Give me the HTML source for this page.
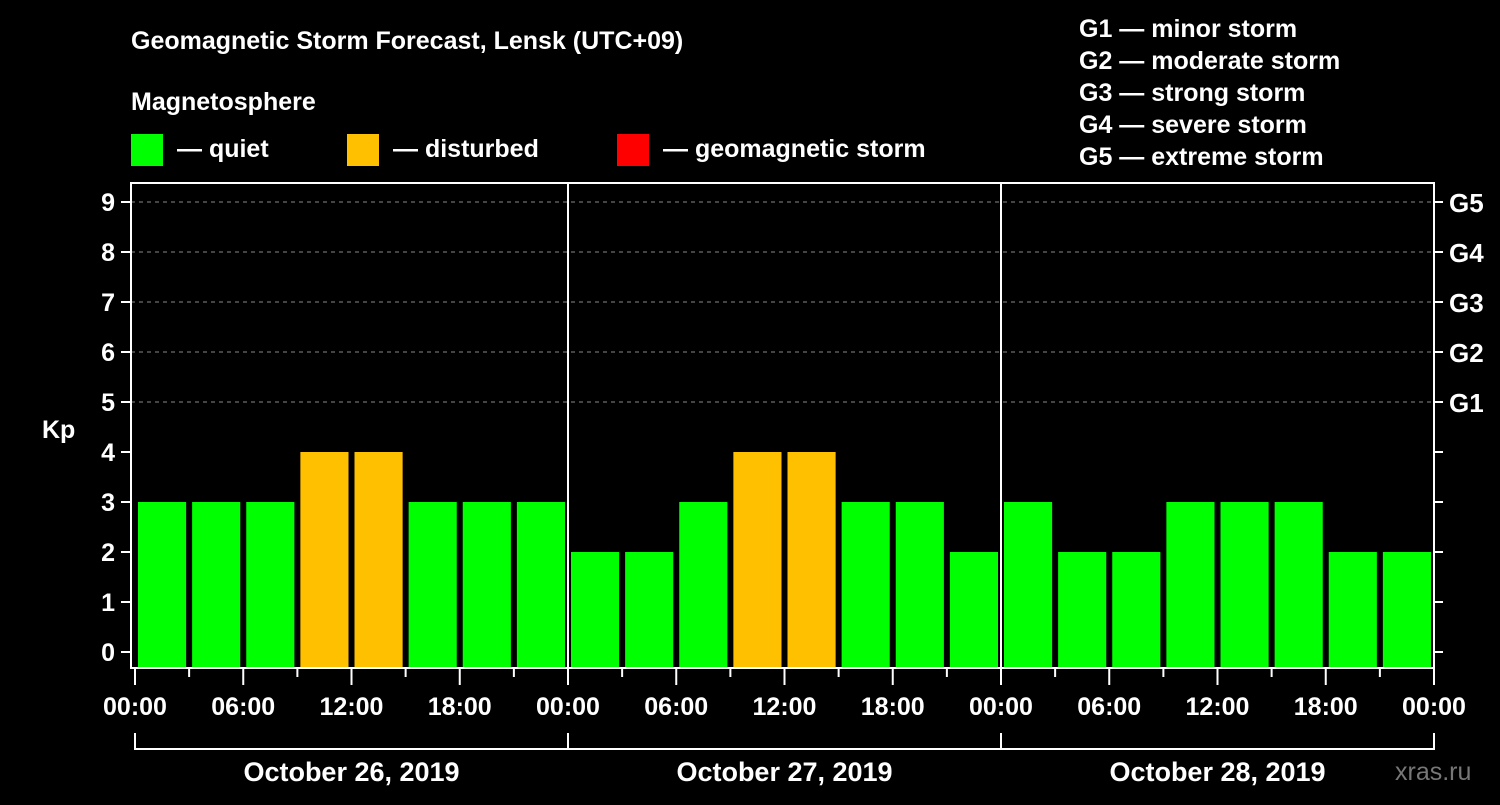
<!DOCTYPE html>
<html><head><meta charset="utf-8"><style>
body{margin:0;background:#000;width:1500px;height:800px;overflow:hidden}
svg text{font-family:"Liberation Sans",Arial,sans-serif;font-weight:bold;fill:#fff}
</style></head><body>
<svg id="chart" width="1500" height="800" xmlns="http://www.w3.org/2000/svg">
<rect width="1500" height="800" fill="#000"/>
<text x="131" y="49" font-size="25">Geomagnetic Storm Forecast, Lensk (UTC+09)</text>
<text x="131" y="110" font-size="25">Magnetosphere</text>
<g font-size="25">
<rect x="131" y="134" width="32" height="32" fill="#00ff00"/>
<text x="177" y="157">— quiet</text>
<rect x="347" y="134" width="32" height="32" fill="#ffc000"/>
<text x="393" y="157">— disturbed</text>
<rect x="617" y="134" width="32" height="32" fill="#ff0000"/>
<text x="663" y="157">— geomagnetic storm</text>
</g>
<g font-size="25">
<text x="1079" y="37">G1 — minor storm</text>
<text x="1079" y="69">G2 — moderate storm</text>
<text x="1079" y="101">G3 — strong storm</text>
<text x="1079" y="133">G4 — severe storm</text>
<text x="1079" y="165">G5 — extreme storm</text>
</g>
<text x="42" y="438" font-size="25">Kp</text>
<text x="1395" y="780" font-size="25" fill="#777" style="fill:#777;font-weight:normal">xras.ru</text>
<g id="grid"></g><g id="bars"></g><g id="axes"></g>
</svg>
<script>
const kpValues=[3,3,3,4,4,3,3,3, 2,2,3,4,4,3,3,2, 3,2,2,3,3,3,2,2];
const yTickLabels=["0","1","2","3","4","5","6","7","8","9"];
const gLabels=["G1","G2","G3","G4","G5"];
const xTickLabels=["00:00","06:00","12:00","18:00","00:00","06:00","12:00","18:00","00:00","06:00","12:00","18:00","00:00"];
const dayLabels=["October 26, 2019","October 27, 2019","October 28, 2019"];
const NS="http://www.w3.org/2000/svg";
const X0=135,X1=1434,LEFT=131,TOP=183,BOTTOM=668;
const nSlots=kpValues.length;
const slotW=(X1-X0)/nSlots;
const xs=i=>X0+i*slotW;
const ys=v=>652-v*50;
function mk(p,t,a){const e=document.createElementNS(NS,t);for(const k in a)e.setAttribute(k,a[k]);p.appendChild(e);return e;}
const grid=document.getElementById('grid'),bars=document.getElementById('bars'),axes=document.getElementById('axes');
for(let v=5;v<=9;v++){const l=mk(grid,'line',{x1:LEFT,x2:X1,y1:ys(v),y2:ys(v),stroke:'#888','stroke-dasharray':'4,4','stroke-width':1});

}
kpValues.forEach((v,i)=>{const c=v>=5?'#ff0000':(v>=4?'#ffc000':'#00ff00');
const r=mk(bars,'rect',{x:xs(i)+3,y:ys(v),width:slotW-6,height:BOTTOM-ys(v),fill:c});

});
mk(axes,'rect',{x:LEFT,y:TOP,width:X1-LEFT,height:BOTTOM-TOP,fill:'none',stroke:'#fff','stroke-width':2});
for(let d=1;d<3;d++)mk(axes,'line',{x1:xs(d*8),x2:xs(d*8),y1:TOP,y2:BOTTOM,stroke:'#fff','stroke-width':2});
yTickLabels.forEach((s,v)=>{mk(axes,'line',{x1:121,x2:LEFT,y1:ys(v),y2:ys(v),stroke:'#fff','stroke-width':2});
mk(axes,'line',{x1:X1,x2:X1+9,y1:ys(v),y2:ys(v),stroke:'#fff','stroke-width':2});
const t=mk(axes,'text',{x:115,y:ys(v)+9,'font-size':25,'text-anchor':'end'});t.textContent=s;

});
gLabels.forEach((s,i)=>{const t=mk(axes,'text',{x:1449,y:ys(5+i)+10,'font-size':26});t.textContent=s;

});
for(let i=0;i<=nSlots;i++){const major=i%2===0;
mk(axes,'line',{x1:xs(i),x2:xs(i),y1:BOTTOM,y2:major?685:677,stroke:'#fff','stroke-width':2});}
xTickLabels.forEach((s,i)=>{const t=mk(axes,'text',{x:xs(i*2),y:715,'font-size':25,'text-anchor':'middle'});t.textContent=s;

});
dayLabels.forEach((s,d)=>{const a=xs(d*8),b=xs(d*8+8);
mk(axes,'path',{d:`M${a} 733V749H${b}V733`,fill:'none',stroke:'#fff','stroke-width':2});
const t=mk(axes,'text',{x:(a+b)/2,y:781,'font-size':27,'text-anchor':'middle'});t.textContent=s;

});
</script>
</body></html>
